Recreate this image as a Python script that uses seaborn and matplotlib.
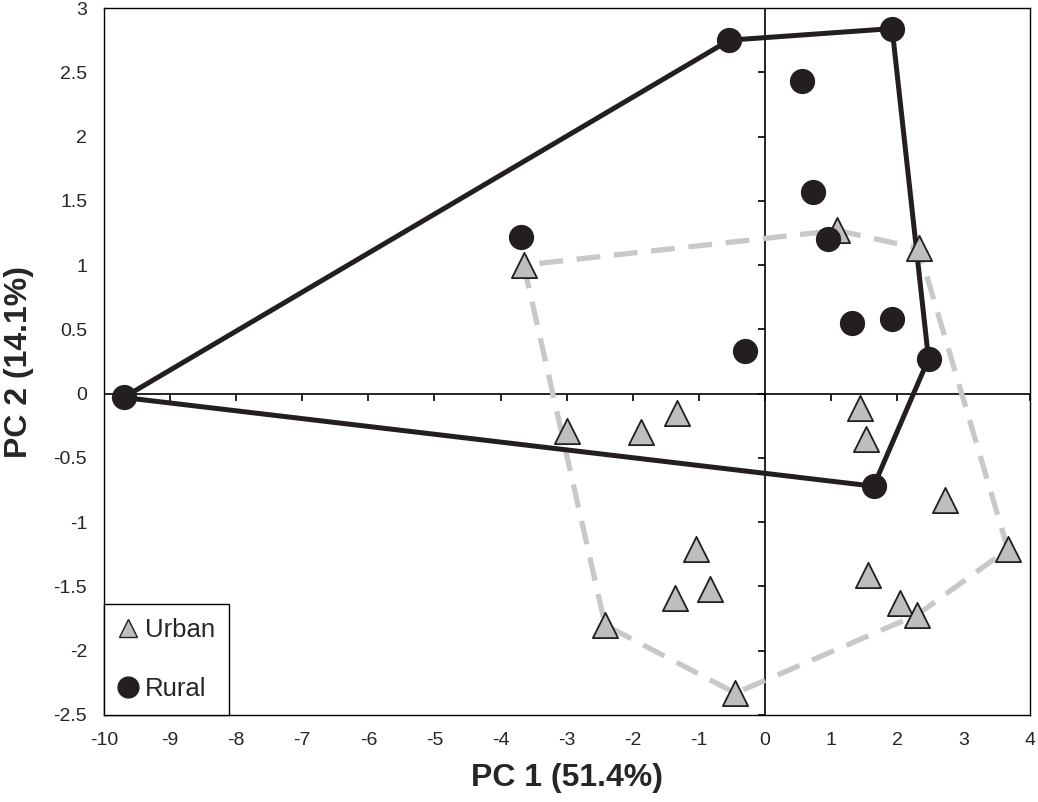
import numpy as np
import pandas as pd
import seaborn as sns
import matplotlib.pyplot as plt
from matplotlib.lines import Line2D

# PCA scores
urban_pc1 = [-3.65, 1.09, 2.32, -3.00, -1.88, -1.33, 1.44, 1.53, 2.72, 3.67,
             -1.05, -1.36, -0.84, -2.42, 1.56, 2.04, 2.30, -0.45]
urban_pc2 = [1.00, 1.27, 1.13, -0.29, -0.30, -0.15, -0.11, -0.35, -0.83, -1.21,
             -1.21, -1.59, -1.52, -1.80, -1.41, -1.63, -1.72, -2.33]
rural_pc1 = [-9.70, -0.54, 1.92, 0.56, 0.72, 0.95, -3.69, -0.30, 1.32, 1.92, 2.47, 1.64]
rural_pc2 = [-0.03, 2.75, 2.84, 2.43, 1.57, 1.20, 1.22, 0.33, 0.55, 0.58, 0.27, -0.72]

x_ticks = list(range(-10, 5))
y_ticks = [-2.5, -2, -1.5, -1, -0.5, 0, 0.5, 1, 1.5, 2, 2.5, 3]
y_tick_labels = ["-2.5", "-2", "-1.5", "-1", "-0.5", "0", "0.5", "1", "1.5", "2", "2.5", "3"]

df = pd.DataFrame({
    "PC1": urban_pc1 + rural_pc1,
    "PC2": urban_pc2 + rural_pc2,
    "Group": ["Urban"] * len(urban_pc1) + ["Rural"] * len(rural_pc1),
})


def convex_hull(xs, ys):
    pts = sorted(zip(xs, ys))

    def cross(o, a, b):
        return (a[0] - o[0]) * (b[1] - o[1]) - (a[1] - o[1]) * (b[0] - o[0])

    lower, upper = [], []
    for p in pts:
        while len(lower) >= 2 and cross(lower[-2], lower[-1], p) <= 0:
            lower.pop()
        lower.append(p)
    for p in reversed(pts):
        while len(upper) >= 2 and cross(upper[-2], upper[-1], p) <= 0:
            upper.pop()
        upper.append(p)
    hull = lower[:-1] + upper[:-1]
    hull.append(hull[0])
    return np.array(hull)


sns.set_style("white")
plt.rcParams['font.family'] = ['Liberation Sans', 'DejaVu Sans']
plt.rcParams['axes.unicode_minus'] = False

fig = plt.figure(figsize=(10.38, 8.02), dpi=100)
ax = fig.add_axes([0.100, 0.1085, 0.892, 0.8815])

# zero lines with Excel style ticks
ax.axhline(0, color='black', lw=1.2, zorder=1)
ax.axvline(0, color='black', lw=1.2, zorder=1)
ax.plot(x_ticks, [0] * len(x_ticks), ls='none', marker=3, ms=5, mew=1.2, color='black', zorder=1)
ax.plot([0] * len(y_ticks), y_ticks, ls='none', marker=0, ms=5, mew=1.2, color='black', zorder=1)

# hulls
uh = convex_hull(urban_pc1, urban_pc2)
ax.plot(uh[:, 0], uh[:, 1], color='#c8c8c8', lw=3.8, dashes=(4.5, 2.6), zorder=2)
rh = convex_hull(rural_pc1, rural_pc2)
ax.plot(rh[:, 0], rh[:, 1], color='#231f20', lw=3.6, zorder=2)

sns.scatterplot(data=df[df.Group == "Urban"], x="PC1", y="PC2", marker='^', s=330,
                color='#bcbec0', edgecolor='#231f20', linewidth=1.3, ax=ax, legend=False, zorder=3)
sns.scatterplot(data=df[df.Group == "Rural"], x="PC1", y="PC2", marker='o', s=330,
                color='#231f20', edgecolor='#231f20', linewidth=0, ax=ax, legend=False, zorder=4)

ax.set_xlim(-10, 4)
ax.set_ylim(-2.5, 3)
ax.set_xticks(x_ticks)
ax.set_yticks(y_ticks)
ax.set_yticklabels(y_tick_labels)
ax.tick_params(length=0, labelsize=14, pad=12)
for s in ax.spines.values():
    s.set_visible(True)
    s.set_color('black')
    s.set_linewidth(1.0)

ax.set_xlabel("PC 1 (51.4%)", fontsize=23, fontweight='bold', labelpad=10)
ax.set_ylabel("PC 2 (14.1%)", fontsize=23, fontweight='bold', labelpad=14)

handles = [
    Line2D([], [], ls='none', marker='^', ms=13, mfc='#bcbec0', mec='#231f20', mew=1.0),
    Line2D([], [], ls='none', marker='o', ms=15, mfc='#231f20', mec='#231f20'),
]
leg = ax.legend(handles, ["Urban", "Rural"], loc='lower left', fontsize=18.5,
                frameon=True, fancybox=False, framealpha=1, edgecolor='black',
                borderaxespad=0, handletextpad=0.25, handlelength=0.8,
                labelspacing=1.35, borderpad=0.55)
leg.get_frame().set_linewidth(1.0)

plt.savefig("out.png", dpi=100)
